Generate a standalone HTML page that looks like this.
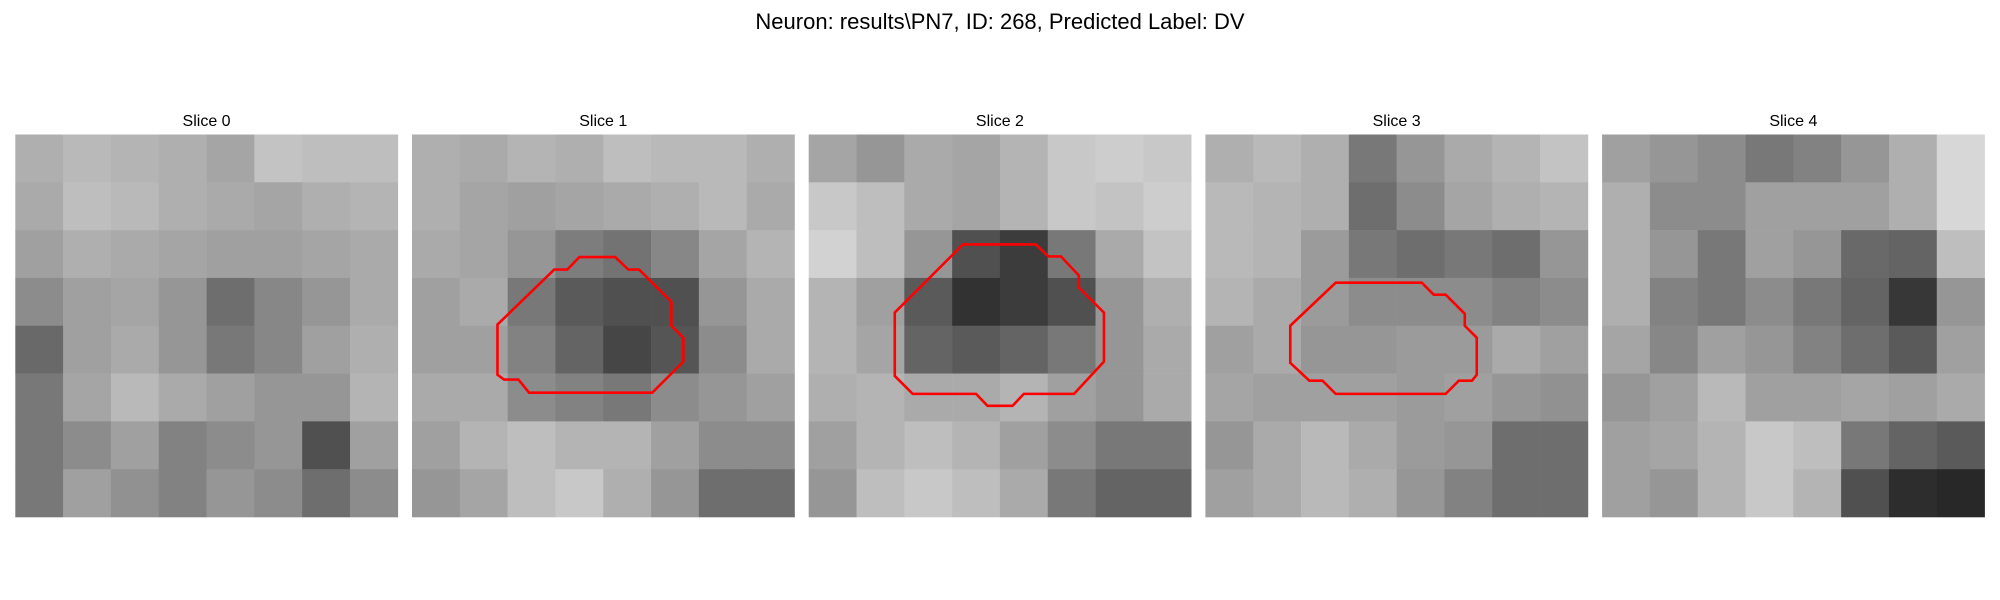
<!DOCTYPE html>
<html><head><meta charset="utf-8"><style>
body{margin:0;background:#fff;}
svg{display:block;font-family:"Liberation Sans","DejaVu Sans",sans-serif;}
</style></head><body>
<svg id="fig" width="2000" height="600" viewBox="0 0 2000 600" xmlns="http://www.w3.org/2000/svg">
<text x="1000" y="29" text-anchor="middle" font-size="22" fill="#000">Neuron: results\PN7, ID: 268, Predicted Label: DV</text>
</svg>
<script>
const sliceTitles = ["Slice 0","Slice 1","Slice 2","Slice 3","Slice 4"];
const slice0 = [
[175,185,180,175,165,195,190,190],
[170,190,185,175,170,165,175,180],
[160,175,170,165,160,160,165,170],
[140,160,165,150,110,135,150,170],
[105,160,170,150,120,135,160,175],
[120,165,185,170,160,150,150,180],
[120,140,160,130,140,150,80,160],
[120,160,145,130,150,140,110,140]];
const slice1 = [
[175,170,180,175,190,185,185,175],
[175,165,160,165,170,175,185,170],
[170,165,150,125,115,135,165,180],
[160,170,120,90,80,80,150,170],
[160,160,130,100,70,85,140,170],
[170,170,140,130,120,140,150,160],
[160,180,190,180,180,160,140,140],
[150,165,190,200,175,150,110,110]];
const slice2 = [
[165,150,170,165,180,200,205,200],
[200,190,170,165,180,200,195,205],
[210,190,150,80,60,120,170,195],
[180,160,90,50,60,80,150,175],
[180,165,100,90,100,120,150,170],
[175,180,170,170,180,160,150,170],
[160,180,190,180,160,140,120,120],
[150,190,200,190,170,120,100,100]];
const slice3 = [
[175,185,175,120,150,170,180,195],
[185,180,175,110,140,165,175,180],
[185,180,155,120,110,120,110,150],
[180,170,155,140,140,140,130,140],
[160,170,150,150,155,155,170,160],
[165,160,160,160,155,160,150,145],
[150,170,185,170,155,150,110,110],
[160,170,185,175,150,130,110,110]];
const slice4 = [
[160,150,140,120,130,150,175,215],
[175,140,140,160,160,160,175,215],
[175,150,120,160,150,105,100,190],
[175,130,120,140,120,100,55,150],
[165,135,160,150,130,110,90,160],
[150,160,185,160,160,165,160,170],
[160,165,180,200,190,120,100,90],
[160,150,180,200,180,80,45,40]];
const contour1 = [[7.15,15.9],[11.9,11.3],[13,11.3],[14,10.25],[17,10.25],[18.1,11.3],[19,11.3],[21.7,14],[21.7,16],[22.7,17],[22.7,19],[20.1,21.6],[9.8,21.6],[8.9,20.5],[7.7,20.5],[7.15,20.1]];
const contour2 = [[7.2,14.9],[12.9,9.2],[19,9.2],[20.05,10.2],[21.1,10.2],[22.6,11.8],[22.6,12.8],[24.7,14.9],[24.7,19],[22.2,21.7],[18,21.7],[17.05,22.7],[14.96,22.7],[14,21.7],[8.7,21.7],[7.2,20.2]];
const contour3 = [[7.1,16],[10.9,12.4],[18.1,12.4],[19.1,13.4],[20.1,13.4],[21.7,15],[21.7,16],[22.7,17],[22.7,20.1],[22.3,20.6],[21.2,20.6],[20.1,21.7],[10.9,21.7],[9.8,20.6],[8.7,20.6],[7.1,19.1]];
const slices = [slice0,slice1,slice2,slice3,slice4];
const contours = [null,contour1,contour2,contour3,null];

const NS="http://www.w3.org/2000/svg";
const fig=document.getElementById('fig');
const panelX0=15.3, panelStep=396.7, panelW=382.5, panelY=134.5, gridN=32;
function px(i,c){return panelX0+i*panelStep+c/gridN*panelW;}
function py(r){return panelY+r/gridN*panelW;}
slices.forEach((grid,i)=>{
  const g=document.createElementNS(NS,'g');
  
  
  fig.appendChild(g);
  const t=document.createElementNS(NS,'text');
  
  
  t.setAttribute('x',px(i,gridN/2));t.setAttribute('y',126);
  t.setAttribute('text-anchor','middle');t.setAttribute('font-size','16');
  t.textContent=sliceTitles[i];g.appendChild(t);
  const n=grid.length, f=gridN/n;
  grid.forEach((row,r)=>row.forEach((v,c)=>{
    const rc=document.createElementNS(NS,'rect');
    
    
    const x0=px(i,c*f), x1=px(i,(c+1)*f), y0=py(r*f), y1=py((r+1)*f);
    rc.setAttribute('x',x0);rc.setAttribute('y',y0);
    rc.setAttribute('width',x1-x0+0.3);rc.setAttribute('height',y1-y0+0.3);
    rc.setAttribute('fill','rgb('+v+','+v+','+v+')');
    g.appendChild(rc);
  }));
  const cont=contours[i];
  if(cont){
    const p=document.createElementNS(NS,'polygon');
    
    
    p.setAttribute('points',cont.map(q=>px(i,q[0])+','+py(q[1])).join(' '));
    p.setAttribute('fill','none');p.setAttribute('stroke','#ff0000');p.setAttribute('stroke-width','2.6');
    g.appendChild(p);
  }
});
</script>
</body></html>
